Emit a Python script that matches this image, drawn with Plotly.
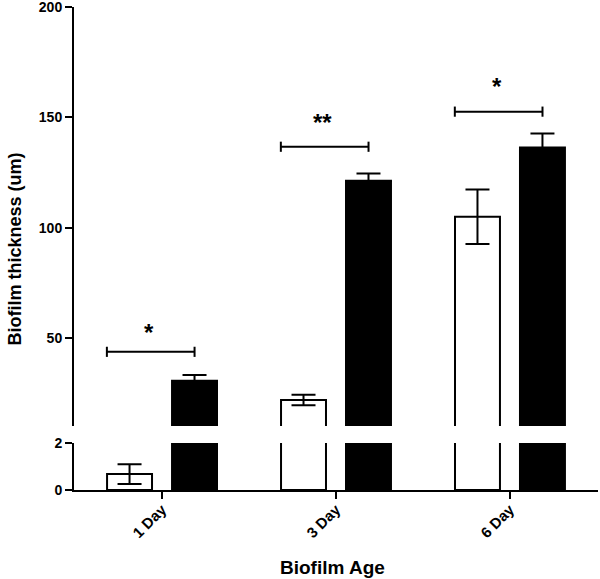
import plotly.graph_objects as go

categories = ["1 Day", "3 Day", "6 Day"]
white_mean = [0.68, 22.0, 105.0]
white_err = [0.42, 2.4, 12.3]
black_mean = [30.7, 121.3, 136.4]
black_err = [2.6, 3.3, 6.3]
bracket_y = [43.8, 136.7, 152.6]
star_y = [55.5, 150.5, 166.5]
stars = ["*", "**", "*"]
low_ticks = [0, 2]
high_ticks = [50, 100, 150, 200]

FONT = "Liberation Sans, Arial, sans-serif"

fig = go.Figure()

for yax in ["y", "y2"]:
    fig.add_trace(go.Bar(
        x=categories, y=white_mean, yaxis=yax, xaxis="x",
        marker=dict(color="white", line=dict(color="black", width=2)),
        error_y=dict(type="data", array=white_err, color="black", thickness=2, width=12),
        showlegend=False,
    ))
    fig.add_trace(go.Bar(
        x=categories, y=black_mean, yaxis=yax, xaxis="x",
        marker=dict(color="black", line=dict(color="black", width=2)),
        error_y=dict(type="data", array=black_err, color="black", thickness=2, width=12),
        showlegend=False,
    ))

# significance brackets
cap = 2.3
for i, (by, s, sy) in enumerate(zip(bracket_y, stars, star_y)):
    x0, x1 = i - 0.317, i + 0.187
    line = dict(color="black", width=2)
    fig.add_shape(type="line", xref="x", yref="y2", x0=x0, x1=x1, y0=by, y1=by, line=line)
    fig.add_shape(type="line", xref="x", yref="y2", x0=x0, x1=x0, y0=by - cap, y1=by + cap, line=line)
    fig.add_shape(type="line", xref="x", yref="y2", x0=x1, x1=x1, y0=by - cap, y1=by + cap, line=line)
    fig.add_annotation(x=i - 0.075, y=sy, xref="x", yref="y2", text=s, showarrow=False,
                       font=dict(family=FONT, size=24, color="black", weight="bold"),
                       yanchor="middle", xanchor="center", yshift=-6)

axis_common = dict(showline=True, linecolor="black", linewidth=2, ticks="outside",
                   ticklen=7, tickwidth=2, tickcolor="black", showgrid=False, zeroline=False,
                   automargin=False, ticklabeloverflow="allow",
                   tickfont=dict(family=FONT, size=14, color="black", weight="bold"))

fig.update_layout(
    width=600, height=579,
    margin=dict(l=74, r=2, t=7, b=89),
    paper_bgcolor="white", plot_bgcolor="white",
    barmode="group", bargap=0.253, bargroupgap=0.308,
    xaxis=dict(anchor="y", range=[-0.506, 2.506], tickangle=-45, ticklabelstandoff=-4,
               **axis_common),
    yaxis=dict(domain=[0, 0.0973], range=[0, 2], tickvals=low_ticks, anchor="x", **axis_common),
    yaxis2=dict(domain=[0.1325, 1], range=[10.2, 200], tickvals=high_ticks, anchor="x", **axis_common),
)
fig.update_xaxes(tickfont=dict(family=FONT, size=15, color="black", weight="bold"))

fig.add_annotation(text="Biofilm thickness (um)", xref="paper", yref="paper",
                   x=-0.1126, y=0.5, textangle=-90, showarrow=False,
                   xanchor="center", yanchor="middle",
                   font=dict(family=FONT, size=18, color="black", weight="bold"))
fig.add_annotation(text="Biofilm Age", xref="paper", yref="paper",
                   x=0.494, y=-0.161, showarrow=False,
                   xanchor="center", yanchor="middle",
                   font=dict(family=FONT, size=19, color="black", weight="bold"))

fig.write_html("out.html", config={"displayModeBar": False},
               post_script="document.body.style.margin='0';document.body.style.padding='0';")
